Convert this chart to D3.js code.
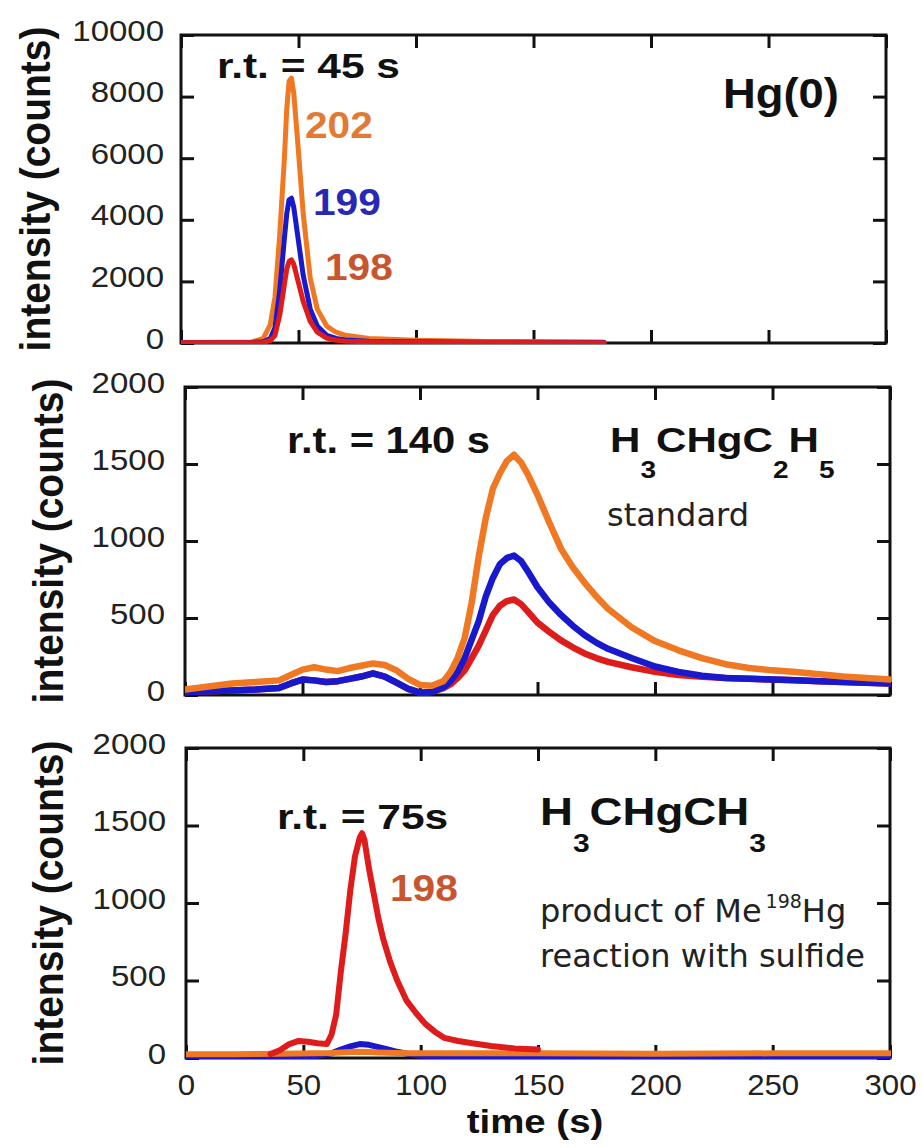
<!DOCTYPE html>
<html><head><meta charset="utf-8">
<script src="https://cdn.jsdelivr.net/npm/d3@7"></script>
<style>body{margin:0;background:#fff}svg{display:block}</style>
</head><body><svg id="c" width="922" height="1147"></svg>
<script>
// ---------- data ----------
// Panel 1: Hg(0)
const hg0Time = [0, 30, 35, 38, 40, 42, 44, 45, 46, 47, 48, 50, 52, 55, 58, 62, 66, 70, 80, 100, 130, 180];
const hg0_202 = [20, 30, 150, 600, 1500, 3500, 6000, 7600, 8500, 8600, 8100, 6200, 4200, 2100, 1100, 550, 350, 250, 150, 90, 50, 30];
const hg0_199 = [10, 15, 40, 150, 500, 1700, 3400, 4200, 4650, 4700, 4400, 3300, 2200, 1100, 550, 250, 150, 100, 60, 40, 25, 15];
const hg0_198 = [10, 10, 20, 80, 250, 900, 1900, 2400, 2650, 2700, 2550, 1950, 1350, 700, 350, 160, 90, 60, 40, 25, 15, 10];

// Panel 2: H3CHgC2H5 standard
const stdTime = [0,10,20,30,40,45,50,55,60,65,70,75,80,85,90,95,100,105,110,113,116,119,122,125,128,131,134,137,140,143,146,150,155,160,165,170,175,180,190,200,210,220,230,240,250,260,270,280,290,300];
const std_202 = [35,55,75,85,95,130,165,180,165,155,175,190,205,195,160,105,65,60,90,150,240,370,600,900,1150,1340,1440,1520,1560,1510,1430,1300,1120,950,830,730,640,560,440,350,290,240,200,175,160,150,135,120,110,100];
const std_199 = [20,25,30,35,45,75,100,95,85,90,105,120,140,120,80,40,15,20,50,90,150,240,360,480,640,760,850,890,905,870,800,700,600,520,450,390,340,300,240,185,150,125,110,105,100,95,90,85,80,75];
const std_198 = [20,25,30,35,45,75,100,95,85,90,105,120,140,120,80,40,15,20,45,70,110,160,240,320,420,520,580,610,620,590,540,470,410,355,310,270,240,215,180,150,130,118,110,105,100,95,90,85,80,75];

// Panel 3: H3CHgCH3 product
const dmTime = [36,40,44,48,52,56,60,62,64,66,68,70,72,74,75,76,78,80,82,84,87,90,94,98,102,106,110,116,122,130,140,150];
const dm_198 = [25,50,90,110,105,95,90,150,280,560,800,1080,1300,1420,1450,1410,1220,1060,900,770,620,500,370,290,220,170,130,110,95,78,62,55];
const dmBaseTime = [0,20,40,55,62,66,70,74,78,82,86,90,95,100,120,150,200,250,300];
const dm_202 = [25,25,28,30,32,35,38,40,38,36,34,32,30,30,30,30,28,30,30];
const dm_199 = [10,10,10,12,30,55,75,90,85,70,55,40,25,15,10,10,10,10,10];

// ticks
const xTicks = [0, 50, 100, 150, 200, 250, 300];
const yTicksHg0 = [0, 2000, 4000, 6000, 8000, 10000];
const yTicksOrg = [0, 500, 1000, 1500, 2000];

// colours
const C202 = "#f07822", C199 = "#1818cc", C198 = "#de1c1c";

// ---------- drawing ----------
const svg = d3.select("#c");
const BOLD = "'Liberation Sans', Arial, Helvetica, sans-serif";
const REG = "'DejaVu Sans', Verdana, sans-serif";

function label(x, y, str, o) {
  const t = svg.append("text")
    .attr("transform", `translate(${x},${y}) scale(${o.sx || 1},1)` + (o.rot ? ` rotate(${o.rot})` : ""))
    .attr("font-family", o.family || BOLD)
    .attr("font-size", o.size)
    .attr("font-weight", o.weight || "bold")
    .attr("fill", o.fill || "#111")
    .attr("text-anchor", o.anchor || "start");
  if (str !== null) t.text(str);
  return t;
}

const panels = [
  { left: 181, right: 886, top: 35, bottom: 343, ymax: 10000, yTicks: yTicksHg0, pad: 17, titleX: 50,
    series: [[hg0Time, hg0_202, C202], [hg0Time, hg0_199, C199], [hg0Time, hg0_198, C198]], lw: 5, xlabels: false },
  { left: 185, right: 890, top: 387, bottom: 695, ymax: 2000, yTicks: yTicksOrg, pad: 20, titleX: 63,
    series: [[stdTime, std_198, C198], [stdTime, std_199, C199], [stdTime, std_202, C202]], lw: 6.5, xlabels: false },
  { left: 186, right: 890, top: 748, bottom: 1058, ymax: 2000, yTicks: yTicksOrg, pad: 20, titleX: 63,
    series: [[dmBaseTime, dm_199, C199], [dmBaseTime, dm_202, C202], [dmTime, dm_198, C198]], lw: 6, xlabels: true }
];

const defs = svg.append("defs");

panels.forEach((p, pi) => {
  const x = d3.scaleLinear().domain([0, 300]).range([p.left, p.right]);
  const y = d3.scaleLinear().domain([0, p.ymax]).range([p.bottom, p.top]);
  const g = svg.append("g");

  defs.append("clipPath").attr("id", "clip" + pi)
    .append("rect").attr("x", p.left).attr("y", p.top - 10)
    .attr("width", p.right - p.left + 1).attr("height", p.bottom - p.top + 11);

  // frame
  g.append("rect").attr("x", p.left).attr("y", p.top)
    .attr("width", p.right - p.left).attr("height", p.bottom - p.top)
    .attr("fill", "none").attr("stroke", "#111").attr("stroke-width", 3);

  const style = a => {
    a.select(".domain").remove();
    a.selectAll(".tick line").attr("stroke", "#111").attr("stroke-width", 3);
    a.attr("font-family", BOLD).attr("font-size", 30);
  };

  // left axis with labels
  const la = g.append("g").attr("transform", `translate(${p.left},0)`)
    .call(d3.axisLeft(y).tickValues(p.yTicks).tickSizeInner(-13).tickSizeOuter(0).tickPadding(p.pad / 1.1).tickFormat(d3.format("d")));
  style(la);
  la.selectAll(".tick text").attr("fill", "#222").attr("dy", "0.17em").attr("transform", "scale(1.1,1)");

  // right axis
  const ra = g.append("g").attr("transform", `translate(${p.right},0)`)
    .call(d3.axisRight(y).tickValues(p.yTicks).tickSizeInner(-13).tickSizeOuter(0).tickFormat(""));
  style(ra);
  // top axis
  const ta = g.append("g").attr("transform", `translate(0,${p.top})`)
    .call(d3.axisTop(x).tickValues(xTicks).tickSizeInner(-13).tickSizeOuter(0).tickFormat(""));
  style(ta);
  // bottom axis
  const ba = g.append("g").attr("transform", `translate(0,${p.bottom})`)
    .call(d3.axisBottom(x).tickValues(xTicks).tickSizeInner(-13).tickSizeOuter(0).tickPadding(16)
      .tickFormat(p.xlabels ? d3.format("d") : ""));
  style(ba);
  ba.selectAll(".tick text").attr("fill", "#222").attr("transform", "scale(1.04,1)");

  // lines
  const line = d3.line().x(d => x(d[0])).y(d => y(d[1]));
  const lg = g.append("g").attr("clip-path", `url(#clip${pi})`);
  p.series.forEach(([ts, vs, col]) => {
    lg.append("path").datum(ts.map((t, i) => [t, vs[i]]))
      .attr("d", line).attr("fill", "none").attr("stroke", col)
      .attr("stroke-width", p.lw).attr("stroke-linejoin", "round").attr("stroke-linecap", "round");
  });

  // y title
  label(p.titleX, (p.top + p.bottom) / 2, "intensity (counts)", { size: 39, sx: 1.1, rot: -90, anchor: "middle" });
});

// ---------- annotations ----------
// panel 1
label(217, 78, "r.t. = 45 s", { size: 36, sx: 1.18 });
label(305, 138, "202", { size: 37, sx: 1.1, fill: "#e07a35" });
label(313, 215, "199", { size: 37, sx: 1.1, fill: "#2828b4" });
label(325, 280, "198", { size: 37, sx: 1.1, fill: "#c9552f" });
label(723, 108, "Hg(0)", { size: 42, sx: 1.08 });

// panel 2
label(287, 453, "r.t. = 140 s", { size: 36, sx: 1.16 });
{
  const t = label(610, 452, null, { size: 36, sx: 1.17 });
  t.append("tspan").text("H");
  t.append("tspan").attr("font-size", 24).attr("dy", 26).text("3");
  t.append("tspan").attr("dy", -26).text("CHgC");
  t.append("tspan").attr("font-size", 24).attr("dy", 26).text("2");
  t.append("tspan").attr("dy", -26).text("H");
  t.append("tspan").attr("font-size", 24).attr("dy", 26).text("5");
}
label(607, 526, "standard", { size: 32, family: REG, weight: "normal", fill: "#222" });

// panel 3
label(277, 829, "r.t. = 75s", { size: 36, sx: 1.18 });
label(390, 901, "198", { size: 37, sx: 1.1, fill: "#c9552f" });
{
  const t = label(540, 825, null, { size: 38, sx: 1.2 });
  t.append("tspan").text("H");
  t.append("tspan").attr("font-size", 25).attr("dy", 27).text("3");
  t.append("tspan").attr("dy", -27).text("CHgCH");
  t.append("tspan").attr("font-size", 25).attr("dy", 27).text("3");
}
{
  const t = label(540, 922, null, { size: 32, family: REG, weight: "normal", fill: "#222" });
  t.append("tspan").text("product of Me");
  t.append("tspan").attr("font-size", 19).attr("dy", -14).attr("dx", 4).text("198");
  t.append("tspan").attr("dy", 14).text("Hg");
}
label(540, 967, "reaction with sulfide", { size: 32, family: REG, weight: "normal", fill: "#222" });

// x title
label(535, 1133, "time (s)", { size: 34, sx: 1.13, anchor: "middle" });
</script>
</body></html>
